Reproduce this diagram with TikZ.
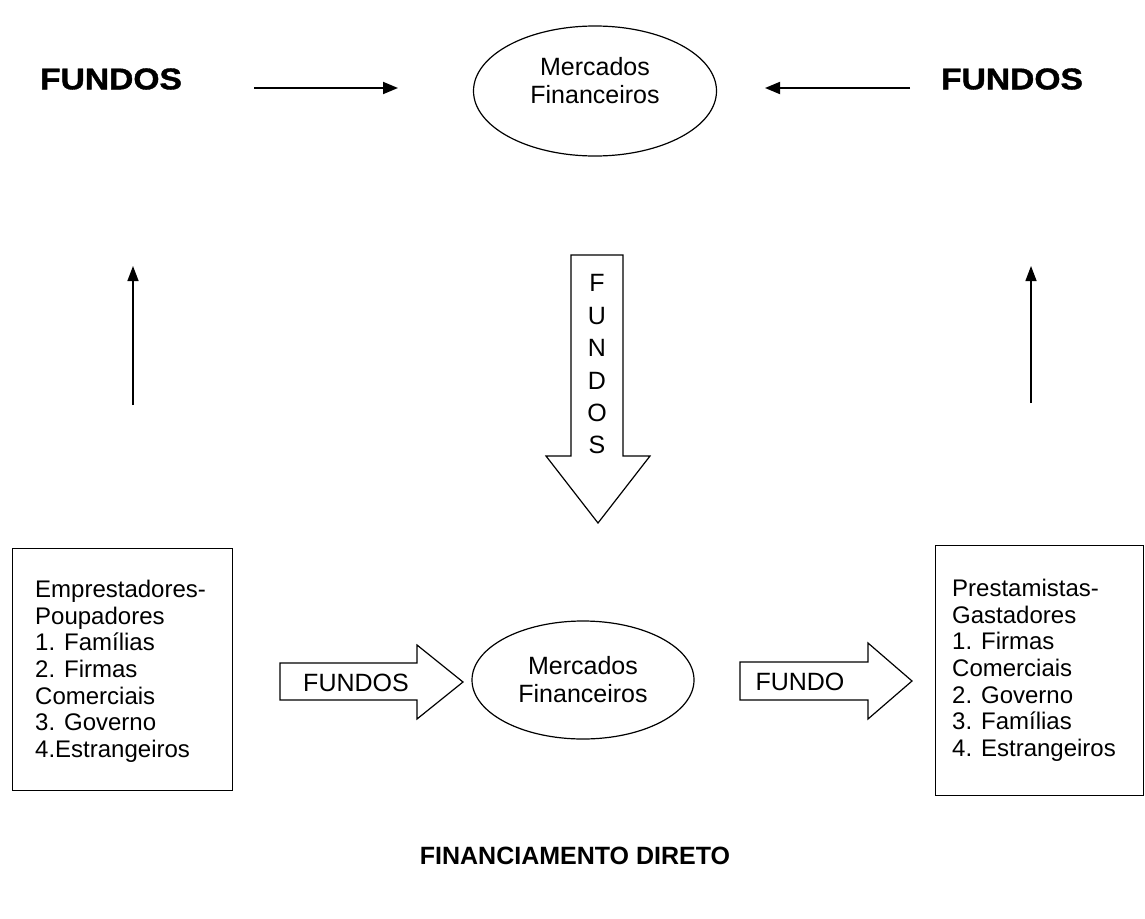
\documentclass[tikz,border=0pt]{standalone}
\usepackage{fontspec}
\setmainfont{Liberation Sans}
\newfontfamily\blackfont[UprightFont={* Bold}, FakeBold=1.2]{Liberation Sans}
\usetikzlibrary{shapes.geometric,arrows.meta}
\tikzset{
  bigfundo/.style={font=\fontsize{30}{32}\selectfont\blackfont, inner sep=0pt},
  mercado/.style={draw, line width=1.2pt, ellipse, inner sep=0pt},
  mtext/.style={align=center, inner sep=0pt, font=\fontsize{25}{28}\selectfont},
  listbox/.style={draw, line width=1.2pt, anchor=north west, inner sep=0pt},
  listtext/.style={anchor=north west, align=left, inner sep=0pt, font=\fontsize{24}{26.6}\selectfont},
  blockarrow/.style={draw, line width=1.2pt, line join=miter},
  blocklabel/.style={font=\fontsize{25}{28}\selectfont, inner sep=0pt},
  vletter/.style={font=\fontsize{25}{27}\selectfont, inner sep=0pt},
  thinarrow/.style={line width=1.8pt, -{Triangle[length=15pt,width=12pt]}},
  uparrow/.style={line width=1.4pt, -{Triangle[length=15pt,width=11pt]}},
  title/.style={font=\fontsize{25}{28}\selectfont\bfseries, inner sep=0pt}
}
\begin{document}
\begin{tikzpicture}[x=1pt,y=-1pt]
\useasboundingbox (0,0) rectangle (1145,918);
% top row
\node[bigfundo] (fl) at (111,79) {\scalebox{1.12}[1]{FUNDOS}};
\node[bigfundo] (fr) at (1012,79) {\scalebox{1.12}[1]{FUNDOS}};
\node[mercado, minimum width=243pt, minimum height=130pt] (m1) at (595,91) {};
\node[mtext] (m1t) at (595,81) {Mercados\\Financeiros};
\coordinate (a1s) at (254,88);
\coordinate (a1e) at (398,88);
\coordinate (a2s) at (910,88);
\coordinate (a2e) at (765,88);
\draw[thinarrow] (a1s) -- (a1e);
\draw[thinarrow] (a2s) -- (a2e);
% up arrows
\coordinate (u1s) at (133,405);
\coordinate (u1e) at (133,266);
\coordinate (u2s) at (1031,403);
\coordinate (u2e) at (1031,266);
\draw[uparrow] (u1s) -- (u1e);
\draw[uparrow] (u2s) -- (u2e);
% down block arrow
\draw[blockarrow] (571,255) -- (623,255) -- (623,456) -- (650,456) -- (598,523) -- (546,456) -- (571,456) -- cycle;
\node[vletter] (d1) at (597,283) {F};
\node[vletter] (d2) at (597,316) {U};
\node[vletter] (d3) at (597,348) {N};
\node[vletter] (d4) at (597,381) {D};
\node[vletter] (d5) at (597,413) {O};
\node[vletter] (d6) at (597,445) {S};
% bottom row
\node[listbox, minimum width=220pt, minimum height=242pt] (lb) at (12,548) {};
\node[listtext] (lbt) at (35,580) {Emprestadores-\\Poupadores\\1. Fam\'ilias\\2. Firmas\\Comerciais\\3. Governo\\4.Estrangeiros};
\node[listbox, minimum width=208pt, minimum height=250pt] (rb) at (935,545) {};
\node[listtext] (rbt) at (952,579) {Prestamistas-\\Gastadores\\1. Firmas\\Comerciais\\2. Governo\\3. Fam\'ilias\\4. Estrangeiros};
\node[mercado, minimum width=222pt, minimum height=118pt] (m2) at (583,680) {};
\node[mtext] (m2t) at (583,680) {Mercados\\Financeiros};
\draw[blockarrow] (280,663) -- (417,663) -- (417,645) -- (463,682) -- (417,719) -- (417,700) -- (280,700) -- cycle;
\node[blocklabel] (bl1) at (356,683) {FUNDOS};
\draw[blockarrow] (740,662) -- (868,662) -- (868,643) -- (912,681) -- (868,719) -- (868,700) -- (740,700) -- cycle;
\node[blocklabel] (bl2) at (800,682) {FUNDO};
% title
\node[title] (tt) at (575,856) {FINANCIAMENTO DIRETO};
\end{tikzpicture}
\end{document}
